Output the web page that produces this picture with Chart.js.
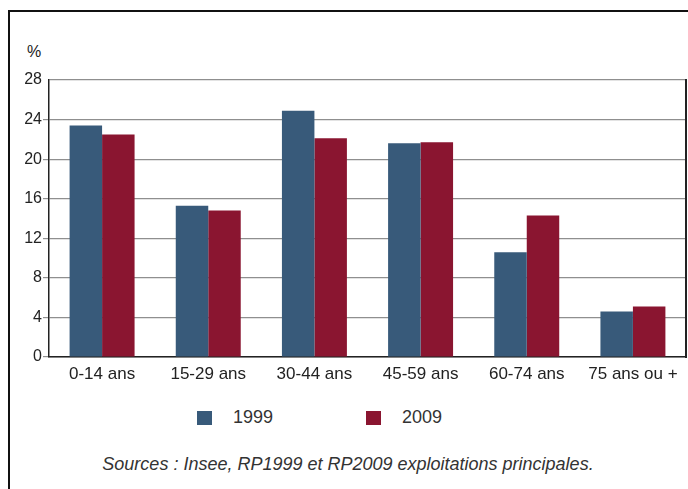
<!DOCTYPE html>
<html>
<head>
<meta charset="utf-8">
<script src="https://cdn.jsdelivr.net/npm/chart.js@4/dist/chart.umd.min.js"></script>
<style>
    body { margin: 0; background: #fff; font-family: "Liberation Sans", Arial, sans-serif; color: #222; }
    .page { position: relative; width: 688px; height: 489px; overflow: hidden; }
    .frame { position: absolute; left: 8px; top: 10px; width: 720px; height: 520px; border-left: 2px solid #111; border-top: 2px solid #111; }
    .chart-box { position: absolute; left: 0; top: 0; width: 688px; height: 400px; }
    .unit { position: absolute; left: 27px; top: 43px; font-size: 16px; }
    .legend { position: absolute; left: 197px; top: 407px; display: flex; font-size: 18px; color: #333; }
    .legend-item { display: flex; align-items: center; margin-right: 93px; }
    .legend-box { width: 15px; height: 14px; margin-right: 21px; }
    .source { position: absolute; left: 0; top: 454px; width: 696px; text-align: center; font-size: 18px; font-style: italic; color: #333; }
</style>
</head>
<body>
<div class="page">
    <div class="frame"></div>
    <div class="unit">%</div>
    <div class="chart-box"><canvas id="bars"></canvas></div>
    <div class="legend"></div>
    <div class="source">Sources : Insee, RP1999 et RP2009 exploitations principales.</div>
</div>
<script>
// age groups and shares of population (%)
let categories = ['0-14 ans', '15-29 ans', '30-44 ans', '45-59 ans', '60-74 ans', '75 ans ou +'];
let values1999 = [23.4, 15.3, 24.9, 21.6, 10.6, 4.6];
let values2009 = [22.5, 14.8, 22.1, 21.7, 14.3, 5.1];
let seriesLabels = ['1999', '2009'];
let yTicks = [0, 4, 8, 12, 16, 20, 24, 28];

let blue = '#385a7a';
let red = '#8a1530';
let gridColor = '#8f8f8f';
let fontFamily = '"Liberation Sans", Arial, sans-serif';

let canvas = document.querySelector('#bars');

const myChart = new Chart(canvas, {
    type: 'bar',
    data: {
        labels: categories,
        datasets: [
            { label: seriesLabels[0], data: values1999, backgroundColor: blue },
            { label: seriesLabels[1], data: values2009, backgroundColor: red }
        ]
    },
    options: {
        responsive: true,
        maintainAspectRatio: false,
        animation: false,
        datasets: { bar: { categoryPercentage: 0.612, barPercentage: 1 } },
        layout: { padding: { top: 80, left: 19, right: 1, bottom: 3 } },
        plugins: { legend: { display: false }, tooltip: { enabled: false } },
        scales: {
            x: {
                grid: { display: false, drawTicks: false },
                border: { color: '#222', width: 1.5 },
                ticks: { color: '#222', padding: 7, font: { family: fontFamily, size: 17 } },
                afterFit: (scale) => { scale.height = 40; }
            },
            y: {
                min: yTicks[0],
                max: yTicks[yTicks.length - 1],
                afterBuildTicks: (scale) => { scale.ticks = yTicks.map(v => ({ value: v })); },
                grid: {
                    color: gridColor,
                    lineWidth: 1.2,
                    tickLength: 6,
                    tickColor: (ctx) => ctx.tick && ctx.tick.value === 28 ? 'rgba(0,0,0,0)' : gridColor
                },
                border: { color: '#222', width: 1.5 },
                ticks: { color: '#222', padding: 1, font: { family: fontFamily, size: 16 } },
                afterFit: (scale) => { scale.width = 30; }
            },
            // right edge of the plot frame
            y2: {
                position: 'right',
                min: 0,
                max: 28,
                grid: { drawOnChartArea: false, drawTicks: false },
                border: { display: true, color: '#222', width: 2 },
                ticks: { display: false },
                afterFit: (scale) => { scale.width = 1; }
            }
        }
    }
});

// html legend built from the datasets
let legend = document.querySelector('.legend');
myChart.data.datasets.forEach(ds => {
    let item = document.createElement('div');
    item.className = 'legend-item';
    item.innerHTML = `<span class="legend-box" style="background:${ds.backgroundColor}"></span><span>${ds.label}</span>`;
    legend.appendChild(item);
});
</script>
</body>
</html>
